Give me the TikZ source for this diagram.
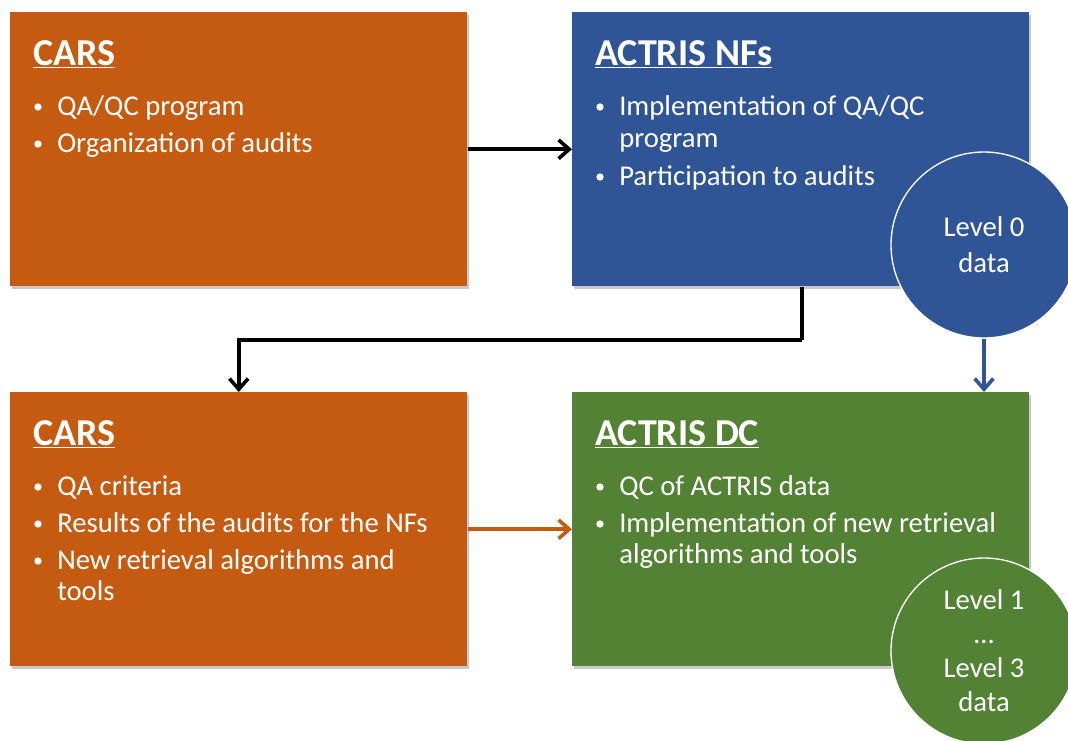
\documentclass[tikz,border=0pt]{standalone}
\usepackage{fontspec}
\setmainfont{Carlito}
\usetikzlibrary{shadows,arrows.meta}
\definecolor{carsorange}{HTML}{C55A11}
\definecolor{nfblue}{HTML}{2F5597}
\definecolor{dcgreen}{HTML}{548235}
\begin{document}
\begin{tikzpicture}[x=0.75pt,y=-0.75pt,
  panel/.style={anchor=north west,minimum width=342.75pt,minimum height=205.5pt,inner sep=0pt,
    drop shadow={shadow xshift=1.5pt,shadow yshift=-2pt,opacity=0.35,fill=black!60}},
  ttl/.style={anchor=base west,inner sep=0pt,text=white,font=\fontsize{28.5}{33}\selectfont\bfseries},
  itm/.style={anchor=base west,inner sep=0pt,text=white,font=\fontsize{21.5}{26}\selectfont},
  blt/.style={circle,fill=white,inner sep=0pt,minimum size=5.5pt},
  lvl/.style={circle,draw=white,line width=1pt,minimum size=139.5pt,inner sep=0pt,text=white,align=center},
  conn/.style={line width=2.7pt,-{Straight Barb[length=8pt,width=14pt,line width=2.7pt]}}
]
\useasboundingbox (0,0) rectangle (1068,740);
\clip (0,0) rectangle (1068,740);
\fill[white] (0,0) rectangle (1068,740);

% panels
\node[panel,fill=carsorange] (b1) at (10,12) {};
\node[panel,fill=nfblue] (b2) at (572,12) {};
\node[panel,fill=carsorange] (b3) at (10,392) {};
\node[panel,fill=dcgreen] (b4) at (572,392) {};

% panel 1
\node[ttl] (t1) at (33,65) {\underline{CARS}};
\node[blt] (p1a) at (38,107) {};
\node[itm] (i1a) at (57,115) {QA/QC program};
\node[blt] (p1b) at (38,144) {};
\node[itm] (i1b) at (57,152) {Organization of audits};

% panel 2
\node[ttl] (t2) at (595,65) {\underline{ACTRIS NFs}};
\node[blt] (p2a) at (600,107) {};
\node[itm] (i2a) at (619,115) {Implementation of QA/QC};
\node[itm] (i2a2) at (619,147) {program};
\node[blt] (p2b) at (600,177) {};
\node[itm] (i2b) at (619,185) {Participation to audits};

% panel 3
\node[ttl] (t3) at (33,445) {\underline{CARS}};
\node[blt] (p3a) at (38,487) {};
\node[itm] (i3a) at (57,495) {QA criteria};
\node[blt] (p3b) at (38,524) {};
\node[itm] (i3b) at (57,532) {Results of the audits for the NFs};
\node[blt] (p3c) at (38,561) {};
\node[itm] (i3c) at (57,569) {New retrieval algorithms and};
\node[itm] (i3c2) at (57,600) {tools};

% panel 4
\node[ttl] (t4) at (595,445) {\underline{ACTRIS DC}};
\node[blt] (p4a) at (600,487) {};
\node[itm] (i4a) at (619,495) {QC of ACTRIS data};
\node[blt] (p4b) at (600,524) {};
\node[itm] (i4b) at (619,532) {Implementation of new retrieval};
\node[itm] (i4b2) at (619,563) {algorithms and tools};

% circles
\node[lvl,fill=nfblue,font=\fontsize{21.5}{27}\selectfont] (c1) at (984,245) {Level 0\\data};
\node[lvl,fill=dcgreen,font=\fontsize{21.5}{25.5}\selectfont] (c2) at (984,651) {Level 1\\…\\Level 3\\data};

% connectors
\draw[conn,black] (b1.east) -- (b2.west);
\draw[conn,carsorange] (b3.east) -- (b4.west);
\coordinate (elb) at (802,340);
\draw[conn,black,-] (b2.south -| elb) -- (elb);
\draw[conn,black] (elb) -| (b3.north);
\draw[conn,nfblue] (c1.south) -- (c1.south |- b4.north);
\end{tikzpicture}
\end{document}
